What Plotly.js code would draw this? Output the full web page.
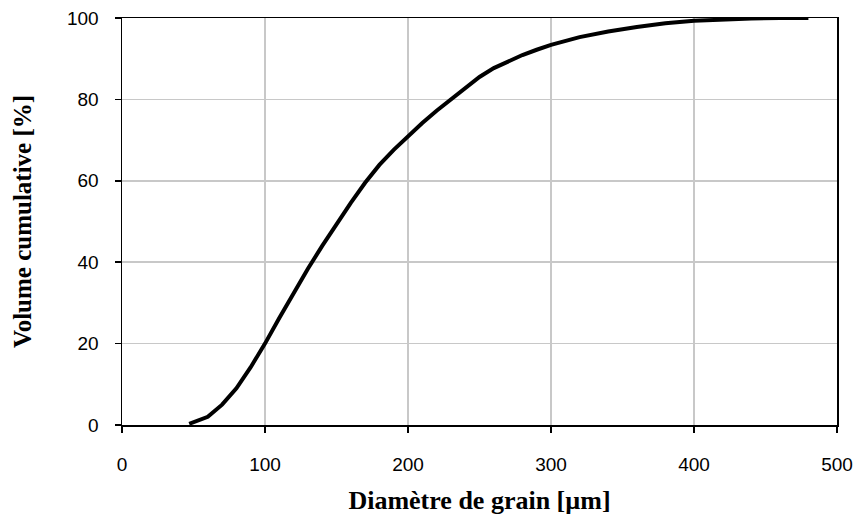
<!DOCTYPE html>
<html>
<head>
<meta charset="utf-8">
<script src="https://cdn.plot.ly/plotly-3.0.1.min.js"></script>
<style>html,body{margin:0;padding:0;background:#fff;}#chart{width:855px;height:523px;}</style>
</head>
<body>
<div id="chart"></div>
<script>
const diameter = [47,50,55,60,70,80,90,100,110,120,130,140,150,160,170,180,190,200,210,220,230,240,250,260,270,280,290,300,320,340,360,380,400,420,440,460,480];
const cumulativeVolume = [0.3,0.7,1.2,2,5,9,14.2,20,26.3,32.5,38.4,44,49.5,54.6,59.5,63.9,67.6,71,74.2,77.2,80,82.6,85.5,87.7,89.4,90.9,92.2,93.4,95.3,96.7,97.8,98.7,99.3,99.7,99.9,100,100];
const xTicks = [0,100,200,300,400,500];
const yTicks = [0,20,40,60,80,100];

const trace = {
  x: diameter, y: cumulativeVolume, type: 'scatter', mode: 'lines',
  line: {color: '#000', width: 4}, hoverinfo: 'skip'
};
const tickFont = {family: '"Liberation Sans Narrow", "Liberation Sans", sans-serif', size: 19, color: '#000'};
const xTitleFont = {family: '"Liberation Serif", "DejaVu Serif", serif', size: 26, color: '#000', weight: 'bold'};
const yTitleFont = {family: '"Liberation Serif", "DejaVu Serif", serif', size: 25, color: '#000', weight: 'bold'};
const layout = {
  width: 855, height: 523,
  margin: {l: 122, r: 18, t: 18, b: 98},
  paper_bgcolor: '#fff', plot_bgcolor: '#fff',
  showlegend: false,
  xaxis: {
    range: [0, 500], tickvals: xTicks, ticktext: xTicks.map(String),
    showgrid: true, gridcolor: '#c8c8c8', gridwidth: 1.5,
    showline: true, linecolor: '#000', linewidth: 1.5, mirror: true,
    ticks: 'outside', ticklen: 6, tickcolor: '#000', tickwidth: 1.5,
    ticklabelstandoff: 16,
    tickfont: tickFont, zeroline: false,
    title: {text: 'Diamètre de grain [µm]', font: xTitleFont, standoff: 16}
  },
  yaxis: {
    range: [0, 100], tickvals: yTicks, ticktext: yTicks.map(String),
    showgrid: true, gridcolor: '#c8c8c8', gridwidth: 1.5,
    showline: true, linecolor: '#000', linewidth: 1.5, mirror: true,
    ticks: 'outside', ticklen: 6, tickcolor: '#000', tickwidth: 1.5,
    ticklabelstandoff: 12,
    tickfont: tickFont, zeroline: false,
    title: {text: 'Volume cumulative [%]', font: yTitleFont, standoff: 28}
  }
};
Plotly.newPlot('chart', [trace], layout, {displayModeBar: false, staticPlot: true});
</script>
</body>
</html>
